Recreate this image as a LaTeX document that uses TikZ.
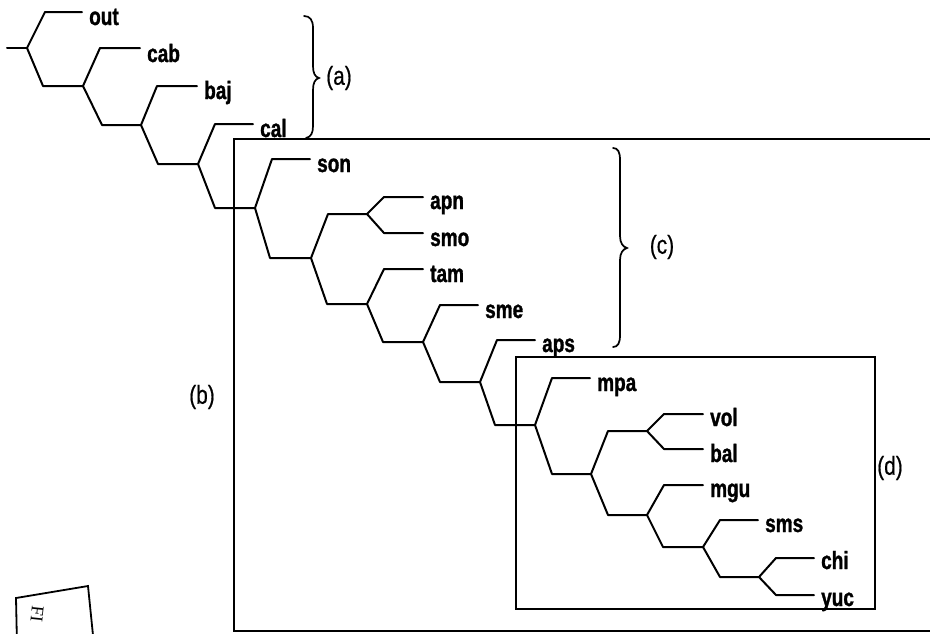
\documentclass[tikz,border=0pt]{standalone}
\usepackage{fontspec}
\setmainfont{Liberation Sans}
\newfontfamily\leaffont[FakeStretch=0.76,FakeBold=1.2]{Liberation Sans}
\newfontfamily\labfont[FakeStretch=0.8,FakeBold=0.6]{Liberation Sans}
\newfontfamily\stampfont{Liberation Serif}
\begin{document}
\begin{tikzpicture}[x=1pt,y=-1pt,
  br/.style={line width=2pt, line join=round, line cap=round},
  leaf/.style={anchor=base west, inner sep=0pt, font=\leaffont\bfseries\fontsize{25}{25}\selectfont},
  tag/.style={inner sep=0pt, font=\labfont\fontsize{26}{26}\selectfont},
  frame/.style={line width=1.8pt},
  brace/.style={line width=1.7pt, line cap=round}]
\useasboundingbox (0,0) rectangle (930,633);
\clip (0,0) rectangle (930,633);

% ---------- junctions ----------
\coordinate (S) at (7,48);
\coordinate (J0) at (27,48);
\coordinate (J1) at (83,86);   \coordinate (e1) at (43,86);
\coordinate (J2) at (141,125); \coordinate (e2) at (102,125);
\coordinate (J3) at (198,164); \coordinate (e3) at (158,164);
\coordinate (J4) at (255,208); \coordinate (e4) at (215,208);
\coordinate (J5) at (311,258); \coordinate (e5) at (270,258);
\coordinate (J6) at (367,214); \coordinate (e6) at (328,214);
\coordinate (J7) at (367,304); \coordinate (e7) at (327,304);
\coordinate (J8) at (423,342); \coordinate (e8) at (383,342);
\coordinate (J9) at (480,382); \coordinate (e9) at (440,382);
\coordinate (J10) at (535,425); \coordinate (e10) at (495,425);
\coordinate (J11) at (591,474); \coordinate (e11) at (552,474);
\coordinate (J12) at (647,431); \coordinate (e12) at (608,431);
\coordinate (J13) at (647,515); \coordinate (e13) at (608,515);
\coordinate (J14) at (703,547); \coordinate (e14) at (663,547);
\coordinate (J15) at (759,577); \coordinate (e15) at (720,577);

% ---------- leaf elbows and ends ----------
\coordinate (out-e) at (45,12);   \coordinate (out-x) at (82,12);
\coordinate (cab-e) at (100,48);  \coordinate (cab-x) at (140,48);
\coordinate (baj-e) at (157,86);  \coordinate (baj-x) at (197,86);
\coordinate (cal-e) at (215,124); \coordinate (cal-x) at (253,124);
\coordinate (son-e) at (272,159); \coordinate (son-x) at (310,159);
\coordinate (apn-e) at (384,197); \coordinate (apn-x) at (423,197);
\coordinate (smo-e) at (384,233); \coordinate (smo-x) at (423,233);
\coordinate (tam-e) at (384,269); \coordinate (tam-x) at (423,269);
\coordinate (sme-e) at (440,305); \coordinate (sme-x) at (478,305);
\coordinate (aps-e) at (497,340); \coordinate (aps-x) at (535,340);
\coordinate (mpa-e) at (552,378); \coordinate (mpa-x) at (590,378);
\coordinate (vol-e) at (664,414); \coordinate (vol-x) at (703,414);
\coordinate (bal-e) at (664,449); \coordinate (bal-x) at (703,449);
\coordinate (mgu-e) at (664,485); \coordinate (mgu-x) at (703,485);
\coordinate (sms-e) at (720,520); \coordinate (sms-x) at (758,520);
\coordinate (chi-e) at (776,558); \coordinate (chi-x) at (814,558);
\coordinate (yuc-e) at (776,595); \coordinate (yuc-x) at (814,595);

% ---------- leaf labels ----------
\node[leaf] (out) at (89,25) {out};
\node[leaf] (cab) at (147,62) {cab};
\node[leaf] (baj) at (204,99) {baj};
\node[leaf] (cal) at (260,137) {cal};
\node[leaf] (son) at (317,172) {son};
\node[leaf] (apn) at (430,209) {apn};
\node[leaf] (smo) at (430,246) {smo};
\node[leaf] (tam) at (430,282) {tam};
\node[leaf] (sme) at (485,318) {sme};
\node[leaf] (aps) at (542,352) {aps};
\node[leaf] (mpa) at (597,391) {mpa};
\node[leaf] (vol) at (710,426) {vol};
\node[leaf] (bal) at (710,462) {bal};
\node[leaf] (mgu) at (710,497) {mgu};
\node[leaf] (sms) at (765,532) {sms};
\node[leaf] (chi) at (821,569) {chi};
\node[leaf] (yuc) at (821,606) {yuc};

% ---------- tree branches ----------
\draw[br] (S) -- (J0);
\draw[br] (J0) -- (out-e) -- (out-x);
\draw[br] (J0) -- (e1) -- (J1);
\draw[br] (J1) -- (cab-e) -- (cab-x);
\draw[br] (J1) -- (e2) -- (J2);
\draw[br] (J2) -- (baj-e) -- (baj-x);
\draw[br] (J2) -- (e3) -- (J3);
\draw[br] (J3) -- (cal-e) -- (cal-x);
\draw[br] (J3) -- (e4) -- (J4);
\draw[br] (J4) -- (son-e) -- (son-x);
\draw[br] (J4) -- (e5) -- (J5);
\draw[br] (J5) -- (e6) -- (J6);
\draw[br] (J5) -- (e7) -- (J7);
\draw[br] (J6) -- (apn-e) -- (apn-x);
\draw[br] (J6) -- (smo-e) -- (smo-x);
\draw[br] (J7) -- (tam-e) -- (tam-x);
\draw[br] (J7) -- (e8) -- (J8);
\draw[br] (J8) -- (sme-e) -- (sme-x);
\draw[br] (J8) -- (e9) -- (J9);
\draw[br] (J9) -- (aps-e) -- (aps-x);
\draw[br] (J9) -- (e10) -- (J10);
\draw[br] (J10) -- (mpa-e) -- (mpa-x);
\draw[br] (J10) -- (e11) -- (J11);
\draw[br] (J11) -- (e12) -- (J12);
\draw[br] (J11) -- (e13) -- (J13);
\draw[br] (J12) -- (vol-e) -- (vol-x);
\draw[br] (J12) -- (bal-e) -- (bal-x);
\draw[br] (J13) -- (mgu-e) -- (mgu-x);
\draw[br] (J13) -- (e14) -- (J14);
\draw[br] (J14) -- (sms-e) -- (sms-x);
\draw[br] (J14) -- (e15) -- (J15);
\draw[br] (J15) -- (chi-e) -- (chi-x);
\draw[br] (J15) -- (yuc-e) -- (yuc-x);

% ---------- frames ----------
\draw[frame] (234,139) rectangle (945,631);
\draw[frame] (516,357) rectangle (875,609);

% ---------- braces ----------
\draw[brace] (304,16) .. controls (310,16) and (313,20) .. (313,28) -- (313,66)
  .. controls (313,73) and (315,77) .. (319,78)
  .. controls (315,79) and (313,83) .. (313,90) -- (313,126)
  .. controls (313,133) and (311,137) .. (306,138);
\draw[brace] (613,148) .. controls (618,148) and (620,152) .. (620,160) -- (620,236)
  .. controls (620,243) and (623,247) .. (627,248)
  .. controls (623,249) and (620,253) .. (620,260) -- (620,335)
  .. controls (620,343) and (618,347) .. (613,347);

% ---------- group tags ----------
\node[tag] (ta) at (339,78) {(a)};
\node[tag] (tb) at (202,397) {(b)};
\node[tag] (tc) at (662,247) {(c)};
\node[tag] (td) at (890,468) {(d)};

% ---------- stamp fragment ----------
\draw[line width=1.8pt] (17,645) -- (16,598) -- (88,586) -- (94,645);
\node[rotate=-96, anchor=west, inner sep=0pt, font=\stampfont\fontsize{18}{18}\selectfont] (stamp) at (38,606) {FI};
\end{tikzpicture}
\end{document}
